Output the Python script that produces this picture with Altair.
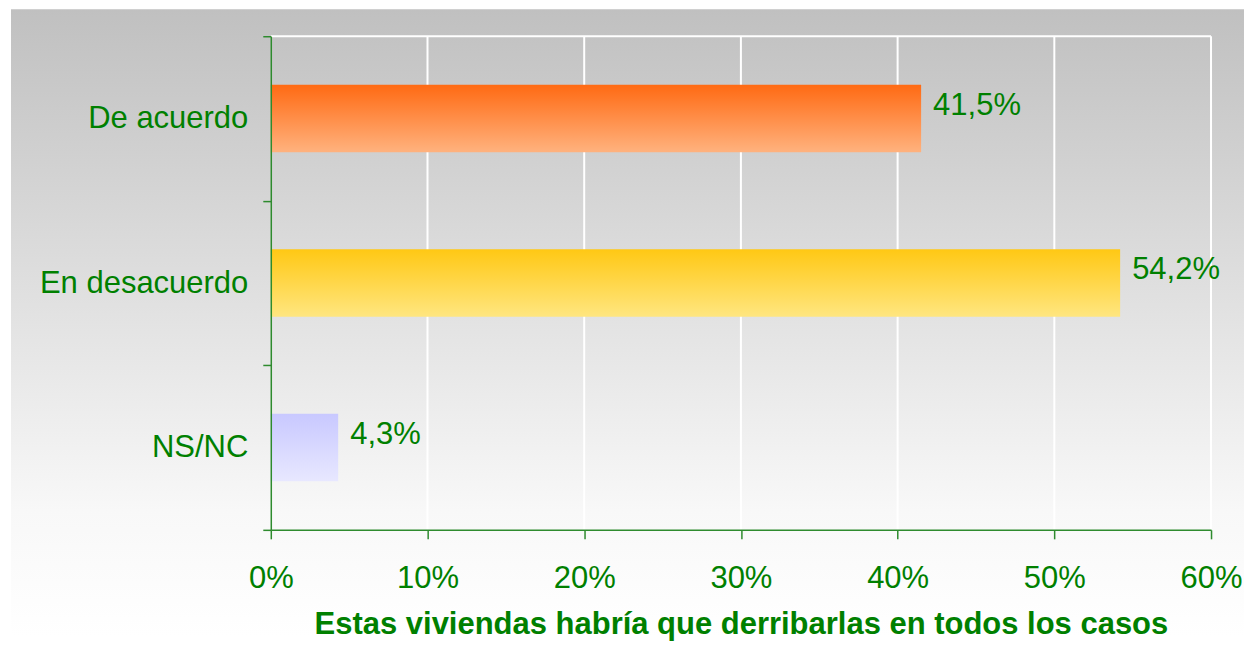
import altair as alt
import pandas as pd

categories = ["De acuerdo", "En desacuerdo", "NS/NC"]
values = [41.5, 54.2, 4.3]
tick_values = [0, 10, 20, 30, 40, 50, 60]
grid_values = [10, 20, 30, 40, 50, 60]
top_colors = ["#FF6A13", "#FFC814", "#C8C8FF"]
bottom_colors = ["#FFB27E", "#FFE680", "#E8E8FF"]
x_title = "Estas viviendas habría que derribarlas en todos los casos"

GREEN = "#008000"
AXIS_GREEN = "#2E8B2E"
FONT = "Liberation Sans"

df = pd.DataFrame({"cat": categories, "val": values})
df["label"] = [f"{v:.1f}".replace(".", ",") + "%" for v in values]

x_scale = alt.Scale(domain=[0, 60], nice=False, zero=True)
y_scale = alt.Scale(domain=categories, paddingInner=0, paddingOuter=0)

x_axis = alt.Axis(
    values=tick_values, labelExpr="datum.value + '%'", grid=False, labelFlush=False,
    domainColor=AXIS_GREEN, domainWidth=1.5, tickColor=AXIS_GREEN, tickWidth=1.5, tickSize=9,
    labelFont=FONT, labelFontSize=31, labelColor=GREEN, labelPadding=25,
    title=x_title, titleFont=FONT, titleFontSize=31, titleFontWeight="bold",
    titleColor=GREEN, titlePadding=16, zindex=1,
)
y_axis = alt.Axis(
    title=None, grid=False, tickBand="extent", labelLimit=500,
    domainColor=AXIS_GREEN, domainWidth=1.5, tickColor=AXIS_GREEN, tickWidth=1.5, tickSize=8,
    labelFont=FONT, labelFontSize=31, labelColor=GREEN, labelPadding=15, zindex=1,
)

bg_gradient = alt.LinearGradient(
    gradient="linear",
    stops=[alt.GradientStop(color="#C0C0C0", offset=0),
           alt.GradientStop(color="#F8F8F8", offset=0.8),
           alt.GradientStop(color="#FFFFFF", offset=1)],
    x1=0, x2=0, y1=0, y2=1,
)

background = alt.Chart(pd.DataFrame({"a": [0]})).mark_rect(fill=bg_gradient).encode(
    x=alt.value(-260), x2=alt.value(974), y=alt.value(-27), y2=alt.value(601)
)

grid = alt.Chart(pd.DataFrame({"g": grid_values})).mark_rule(color="white", strokeWidth=2).encode(
    x=alt.X("g:Q", scale=x_scale, axis=x_axis)
)

top_line = alt.Chart(pd.DataFrame({"a": [0]})).mark_rule(color="white", strokeWidth=2).encode(
    x=alt.datum(0, scale=x_scale, axis=x_axis), x2=alt.datum(60), y=alt.value(0)
)

layers = [background, grid, top_line]
for cat, tc, bc in zip(categories, top_colors, bottom_colors):
    grad = alt.LinearGradient(
        gradient="linear",
        stops=[alt.GradientStop(color=tc, offset=0), alt.GradientStop(color=bc, offset=1)],
        x1=0, x2=0, y1=0, y2=1,
    )
    layers.append(
        alt.Chart(df).transform_filter(alt.datum.cat == cat).mark_bar(
            color=grad, height={"band": 0.41}
        ).encode(
            x=alt.X("val:Q", scale=x_scale, axis=x_axis),
            y=alt.Y("cat:N", scale=y_scale, axis=y_axis, sort=categories),
        )
    )

labels = alt.Chart(df).mark_text(
    align="left", baseline="middle", dx=12, dy=-13, font=FONT, fontSize=31, color=GREEN
).encode(
    x=alt.X("val:Q", scale=x_scale, axis=x_axis),
    y=alt.Y("cat:N", scale=y_scale, axis=y_axis, sort=categories),
    text="label:N",
)
layers.append(labels)

chart = alt.layer(*layers).properties(
    width=941, height=494,
    autosize=alt.AutoSizeParams(type="none"),
    padding={"left": 263, "top": 28, "right": 33, "bottom": 113},
    background="white",
).configure_view(stroke=None)

chart.save("out.html", embed_options={"renderer": "svg", "actions": False})
